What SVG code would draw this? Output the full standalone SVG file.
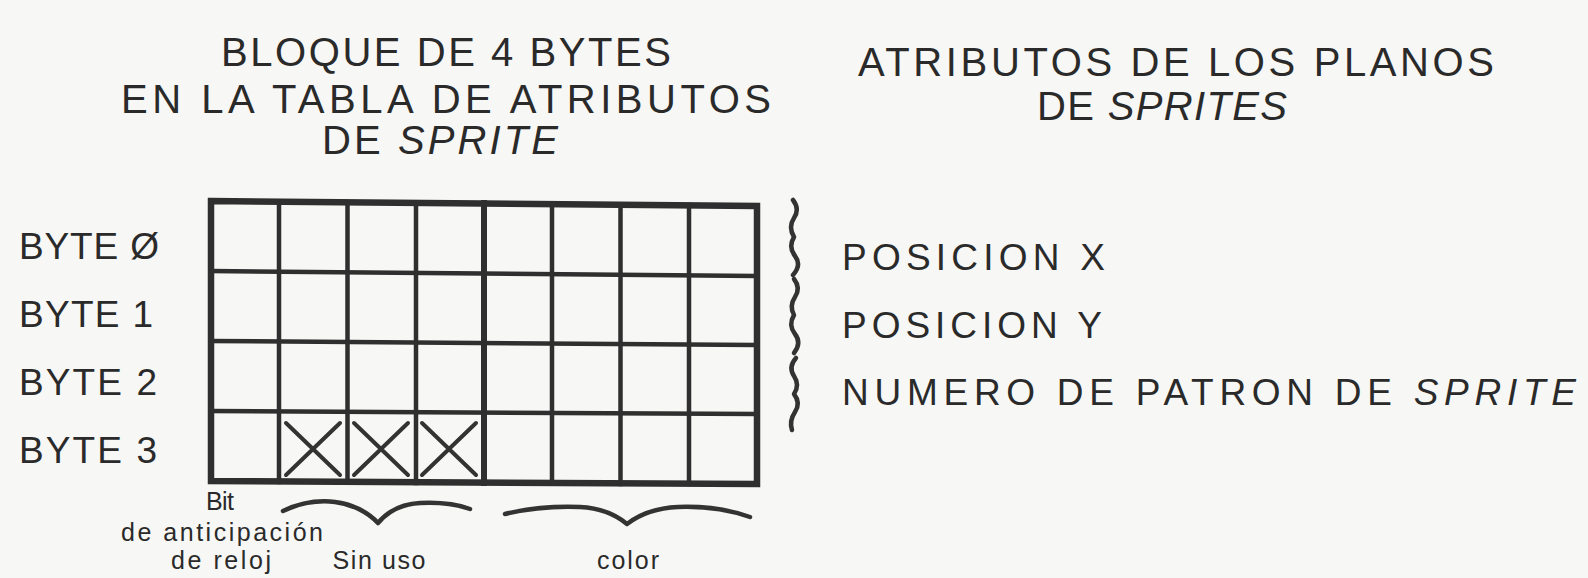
<svg xmlns="http://www.w3.org/2000/svg" width="1588" height="578" viewBox="0 0 1588 578">
<style>
.t{font-family:"Liberation Sans Narrow","Liberation Sans",Arial,sans-serif;fill:#2a2a2a}
.big{font-size:40px}
.mid{font-size:37px}
.sm{font-size:25px}
.it{font-style:italic}
.g{stroke:#2f2f2f;fill:none;stroke-linecap:square}
.o{stroke-width:6.5}
.i{stroke-width:4.5}
.th{stroke-width:6}
.br{stroke:#333;fill:none;stroke-width:4.5;stroke-linecap:round;stroke-linejoin:round}
.x{stroke:#333;stroke-width:4;fill:none;stroke-linecap:round}
</style>
<rect x="0" y="0" width="1588" height="578" fill="#f7f7f5"/>

<g id="title-left">
<text class="t big" x="446" y="66" text-anchor="middle" textLength="450" lengthAdjust="spacing">BLOQUE DE 4 BYTES</text>
<text class="t big" x="446" y="113" text-anchor="middle" textLength="650" lengthAdjust="spacing">EN LA TABLA DE ATRIBUTOS</text>
<text class="t big" x="440" y="154" text-anchor="middle" textLength="236" lengthAdjust="spacing">DE <tspan class="it">SPRITE</tspan></text>
</g>

<g id="title-right">
<text class="t big" x="1176" y="76" text-anchor="middle" textLength="636" lengthAdjust="spacing">ATRIBUTOS DE LOS PLANOS</text>
<text class="t big" x="1162" y="120" text-anchor="middle" textLength="250" lengthAdjust="spacing">DE <tspan class="it">SPRITES</tspan></text>
</g>

<g id="byte-labels">
<text class="t mid" x="19" y="259" textLength="140" lengthAdjust="spacing">BYTE Ø</text>
<text class="t mid" x="19" y="327" textLength="134" lengthAdjust="spacing">BYTE 1</text>
<text class="t mid" x="19" y="395" textLength="138" lengthAdjust="spacing">BYTE 2</text>
<text class="t mid" x="19" y="463" textLength="138" lengthAdjust="spacing">BYTE 3</text>
</g>

<g id="grid">
<path class="g i" d="M211 271 L757 276 M211 341 L757 345 M211 411 L757 414"/>
<path class="g i" d="M279 202 L279 482 M347.5 202 L347.5 482 M416 203 L416 483 M552 204 L552 483 M620.5 205 L620.5 484 M689 205 L689 484"/>
<path class="g th" d="M484 203 L484 483"/>
<path class="g o" d="M211 201 L757 206 L757 484 L211 481 Z"/>
<path class="x" d="M286 423 L340 475 M340 423 L286 475 M354 423 L408 475 M408 423 L354 475 M422 423 L476 475 M476 423 L422 475"/>
</g>

<g id="right-labels">
<text class="t mid" x="842" y="270" textLength="263" lengthAdjust="spacing">POSICION X</text>
<text class="t mid" x="842" y="338" textLength="260" lengthAdjust="spacing">POSICION Y</text>
<text class="t mid" x="842" y="405" textLength="734" lengthAdjust="spacing">NUMERO DE PATRON DE <tspan class="it">SPRITE</tspan></text>
</g>

<g id="bottom-labels">
<text class="t sm" x="220" y="510" text-anchor="middle" textLength="28" lengthAdjust="spacing">Bit</text>
<text class="t sm" x="222" y="541" text-anchor="middle" textLength="202" lengthAdjust="spacing">de anticipación</text>
<text class="t sm" x="221" y="569" text-anchor="middle" textLength="100" lengthAdjust="spacing">de reloj</text>
<text class="t sm" x="379" y="569" text-anchor="middle" textLength="93" lengthAdjust="spacing">Sin uso</text>
<text class="t sm" x="628" y="569" text-anchor="middle" textLength="62" lengthAdjust="spacing">color</text>
</g>

<g id="connectors">
<path class="br" d="M793 200 Q800 209 794 218 T794 237 Q788 247 795 256 T793 275"/>
<path class="br" d="M794 279 Q801 288 795 297 T794 315 Q788 325 795 334 T794 353"/>
<path class="br" d="M796 358 Q788 367 794 376 T794 394 Q801 403 795 412 T792 430"/>
<path class="br" d="M283 511 C300 503 318 500 335 502 C352 504 368 512 378 523 C388 511 402 504 420 503 C440 502 456 504 470 509"/>
<path class="br" d="M505 514 C530 508 555 506 580 507 C600 508 615 514 627 524 C640 514 655 508 678 507 C705 506 730 510 750 517"/>
</g>
</svg>
